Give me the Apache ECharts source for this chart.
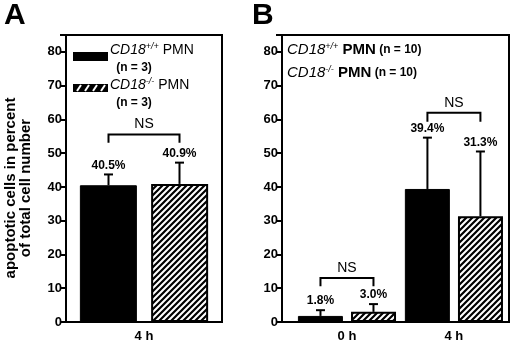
<!DOCTYPE html>
<html><head><meta charset="utf-8">
<script src="https://cdn.jsdelivr.net/npm/echarts@6/dist/echarts.min.js"></script>
<style>html,body{margin:0;padding:0;background:#fff}#c{width:520px;height:343px}</style>
</head><body><div id="c"></div>
<script>
// ---- data ----
const catsA = ['4 h'];
const hoursB = [0, 4];
const catsB = ['0 h', '4 h'];
const wtA = [40.5];          // CD18+/+ PMN, panel A
const koA = [40.9];          // CD18-/- PMN, panel A
const wtAErr = [3.2];
const koAErr = [6.3];
const wtB = [1.8, 39.4];     // CD18+/+ PMN, panel B
const koB = [3.0, 31.3];     // CD18-/- PMN, panel B
const wtBErr = [1.7, 15.2];
const koBErr = [2.3, 19.2];
const yTicks = [0, 10, 20, 30, 40, 50, 60, 70, 80];
// NS brackets: [x position, bracket level, leg end]
const nsA = [[0, 55.5, 53.1]];
const nsB = [[0, 13.0, 10.6], [4, 62.0, 59.3]];

const FONT = 'Liberation Sans, Arial, sans-serif';

function hatch() {
  const s = 6, c = document.createElement('canvas');
  c.width = c.height = s;
  const g = c.getContext('2d');
  g.fillStyle = '#fff'; g.fillRect(0, 0, s, s);
  g.strokeStyle = '#000'; g.lineWidth = 2.2; g.lineCap = 'square';
  g.beginPath();
  g.moveTo(-2, s + 2); g.lineTo(s + 2, -2);
  g.moveTo(-2, 2); g.lineTo(2, -2);
  g.moveTo(s - 2, s + 2); g.lineTo(s + 2, s - 2);
  g.stroke();
  return c;
}
const hatchFill = { image: hatch(), repeat: 'repeat' };

function errSeries(grid, xs, means, errs, offset) {
  return {
    type: 'custom', xAxisIndex: grid, yAxisIndex: grid, z: 5,
    data: means.map((m, i) => [xs[i], m, errs[i]]),
    renderItem: (params, api) => {
      const i = api.value(0), m = api.value(1), e = api.value(2);
      const x = api.coord([i, 0])[0] + offset;
      const y0 = api.coord([i, m])[1];
      const y1 = api.coord([i, m + e])[1];
      return { type: 'group', children: [
        { type: 'line', shape: { x1: x, y1: y0, x2: x, y2: y1 }, style: { stroke: '#000', lineWidth: 2 } },
        { type: 'line', shape: { x1: x - 4.5, y1: y1, x2: x + 4.5, y2: y1 }, style: { stroke: '#000', lineWidth: 2 } },
        { type: 'text', x: x, y: y1 - 3, style: { text: m.toFixed(1) + '%', fontFamily: FONT, fontWeight: 'bold', fontSize: 12, fill: '#000', align: 'center', verticalAlign: 'bottom' } }
      ]};
    }
  };
}
function nsSeries(grid, ns, offset) {
  return {
    type: 'custom', xAxisIndex: grid, yAxisIndex: grid, z: 5,
    data: ns,
    renderItem: (params, api) => {
      const i = api.value(0);
      const cx = api.coord([i, 0])[0];
      const yb = api.coord([i, api.value(1)])[1];
      const yl = api.coord([i, api.value(2)])[1];
      return { type: 'group', children: [
        { type: 'polyline', shape: { points: [[cx - offset, yl], [cx - offset, yb], [cx + offset, yb], [cx + offset, yl]] }, style: { stroke: '#000', lineWidth: 2, fill: null } },
        { type: 'text', x: cx, y: yb - 3, style: { text: 'NS', fontFamily: FONT, fontSize: 14, fill: '#000', align: 'center', verticalAlign: 'bottom' } }
      ]};
    }
  };
}

const axisLabel = { color: '#000', fontFamily: FONT, fontWeight: 'bold', fontSize: 13 };
function yAxis(grid) {
  return { type: 'value', gridIndex: grid, min: 0, max: 85, interval: 10,
    axisLine: { show: true, onZero: false, lineStyle: { color: '#000', width: 2 } },
    axisTick: { show: true, length: 6, lineStyle: { color: '#000', width: 2 } },
    axisLabel: Object.assign({ margin: 4, formatter: v => yTicks.includes(v) ? String(v) : '' }, axisLabel),
    splitLine: { show: false } };
}

const supS = { fontFamily: FONT, fontSize: 9, fill: '#000', fontStyle: 'italic', padding: [0, 0, 7, 0] };
const cdI = { fontFamily: FONT, fontSize: 15, fontStyle: 'italic', fill: '#000' };
const cdIA = { fontFamily: FONT, fontSize: 14, fontStyle: 'italic', fill: '#000' };
const option = {
  animation: false,
  grid: [
    { left: 66, top: 35, width: 156, height: 288, show: true, borderColor: '#000', borderWidth: 2 },
    { left: 282, top: 35, width: 227, height: 288, show: true, borderColor: '#000', borderWidth: 2 }
  ],
  xAxis: [
    { type: 'category', gridIndex: 0, data: catsA,
      axisLine: { show: true, lineStyle: { color: '#000', width: 2 } },
      axisTick: { show: false },
      axisLabel: Object.assign({ margin: 8 }, axisLabel) },
    { type: 'value', gridIndex: 1, min: -2.43, max: 6.06,
      axisLine: { show: true, onZero: false, lineStyle: { color: '#000', width: 2 } },
      axisTick: { show: false }, splitLine: { show: false },
      axisLabel: Object.assign({ margin: 8, customValues: hoursB, formatter: v => catsB[hoursB.indexOf(v)] || '' }, axisLabel) }
  ],
  yAxis: [yAxis(0), yAxis(1)],
  series: [
    { type: 'bar', xAxisIndex: 0, yAxisIndex: 0, data: wtA, barWidth: 57, barGap: '25%', itemStyle: { color: '#000', borderColor: '#000', borderWidth: 1 } },
    { type: 'bar', xAxisIndex: 0, yAxisIndex: 0, data: koA, barWidth: 57, barGap: '25%', itemStyle: { color: hatchFill, borderColor: '#000', borderWidth: 2 } },
    { type: 'bar', xAxisIndex: 1, yAxisIndex: 1, data: wtB.map((v, i) => [hoursB[i], v]), barWidth: 45, barGap: '18%', itemStyle: { color: '#000', borderColor: '#000', borderWidth: 1 } },
    { type: 'bar', xAxisIndex: 1, yAxisIndex: 1, data: koB.map((v, i) => [hoursB[i], v]), barWidth: 45, barGap: '18%', itemStyle: { color: hatchFill, borderColor: '#000', borderWidth: 2 } },
    errSeries(0, [0], wtA, wtAErr, -35.5),
    errSeries(0, [0], koA, koAErr, 35.5),
    errSeries(1, hoursB, wtB, wtBErr, -26.5),
    errSeries(1, hoursB, koB, koBErr, 26.5),
    nsSeries(0, nsA, 35.5),
    nsSeries(1, nsB, 26.5)
  ],
  graphic: [
    { type: 'text', left: 4, top: 1, style: { text: 'A', fontFamily: FONT, fontWeight: 'bold', fontSize: 30, fill: '#000' } },
    { type: 'text', left: 252, top: 1, style: { text: 'B', fontFamily: FONT, fontWeight: 'bold', fontSize: 30, fill: '#000' } },
    { type: 'text', x: 18, y: 188, rotation: Math.PI / 2, style: { text: 'apoptotic cells in percent\nof total cell number', fontFamily: FONT, fontWeight: 'bold', fontSize: 15, lineHeight: 15, fill: '#000', align: 'center', verticalAlign: 'middle' } },
    // legend panel A
    { type: 'rect', shape: { x: 73, y: 52, width: 35, height: 9 }, style: { fill: '#000' } },
    { type: 'text', x: 110, y: 50, style: { text: '{i|CD18}{s|+/+}{p| PMN}', verticalAlign: 'middle', rich: { i: cdIA, s: supS, p: { fontFamily: FONT, fontSize: 14, fill: '#000' } } } },
    { type: 'text', x: 134, y: 68, style: { text: '(n = 3)', fontFamily: FONT, fontWeight: 'bold', fontSize: 12, fill: '#000', align: 'center', verticalAlign: 'middle' } },
    { type: 'rect', shape: { x: 73, y: 84, width: 35, height: 8 }, style: { fill: '#000' } },
    { type: 'polyline', shape: { points: [[77, 91], [81, 85]] }, style: { stroke: '#fff', lineWidth: 2 } },
    { type: 'polyline', shape: { points: [[85, 91], [89, 85]] }, style: { stroke: '#fff', lineWidth: 2 } },
    { type: 'polyline', shape: { points: [[93, 91], [97, 85]] }, style: { stroke: '#fff', lineWidth: 2 } },
    { type: 'polyline', shape: { points: [[101, 91], [105, 85]] }, style: { stroke: '#fff', lineWidth: 2 } },
    { type: 'text', x: 110, y: 85, style: { text: '{i|CD18}{s|-/-}{p| PMN}', verticalAlign: 'middle', rich: { i: cdIA, s: supS, p: { fontFamily: FONT, fontSize: 14, fill: '#000' } } } },
    { type: 'text', x: 134, y: 103, style: { text: '(n = 3)', fontFamily: FONT, fontWeight: 'bold', fontSize: 12, fill: '#000', align: 'center', verticalAlign: 'middle' } },
    // legend panel B
    { type: 'text', x: 287, y: 50, style: { text: '{i|CD18}{s|+/+}{p| PMN}{n| (n = 10)}', verticalAlign: 'middle', rich: { i: cdI, s: supS, p: { fontFamily: FONT, fontSize: 15, fontWeight: 'bold', fill: '#000' }, n: { fontFamily: FONT, fontSize: 12, fontWeight: 'bold', fill: '#000' } } } },
    { type: 'text', x: 287, y: 73, style: { text: '{i|CD18}{s|-/-}{p| PMN}{n| (n = 10)}', verticalAlign: 'middle', rich: { i: cdI, s: supS, p: { fontFamily: FONT, fontSize: 15, fontWeight: 'bold', fill: '#000' }, n: { fontFamily: FONT, fontSize: 12, fontWeight: 'bold', fill: '#000' } } } }
  ]
};
const chart = echarts.init(document.getElementById('c'), null, { renderer: 'canvas' });
chart.setOption(option);
</script>
</body></html>
